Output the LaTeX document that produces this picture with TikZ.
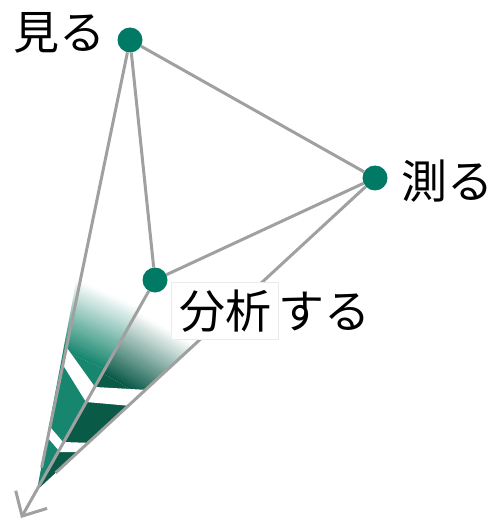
\documentclass[tikz,border=0pt]{standalone}
\usepackage{fontspec}
\newfontfamily\jpfont{Noto Sans CJK JP}
\usetikzlibrary{arrows.meta,calc,backgrounds}
\definecolor{dotteal}{RGB}{0,122,100}
\definecolor{faceleft}{RGB}{22,134,110}
\definecolor{faceright}{RGB}{10,90,72}
\definecolor{edgegray}{RGB}{160,160,160}
\tikzset{
  dot/.style={circle,fill=dotteal,minimum size=25pt,inner sep=0pt},
  edge/.style={draw=edgegray,line width=3pt},
  word/.style={font=\jpfont\fontsize{46}{50}\selectfont,inner sep=0pt},
}
\begin{document}
\begin{tikzpicture}[x=1pt,y=-1pt,>=stealth]
\useasboundingbox (0,0) rectangle (495,521);
% the three points
\node[dot] (miru) at (130,40) {};
\node[dot] (hakaru) at (375,178) {};
\node[dot] (bunseki) at (155,280) {};
\node[word] (miruText) at (59,33) {見る};
\node[word] (hakaruText) at (447,181) {測る};
\node[word] (bunsekiText) at (271,311) {\fboxsep=7pt\fboxrule=0.6pt\fcolorbox{black!8}{white}{分析}する};
% where the edges meet
\coordinate (apex) at (37,490);
\coordinate (tip) at (21,518);
\coordinate (miruEnd) at ($(miru)!0.95!(apex)$);
\coordinate (hakaruEnd) at ($(hakaru)!0.945!(apex)$);
\coordinate (miruTop) at ($(miru)!0.53!(apex)+(-4,0)$);
\coordinate (hakaruTop) at ($(hakaru)!0.34!(apex)$);
\begin{scope}[on background layer]
  % left face
  \begin{scope}
    \clip (apex) -- (miruTop) -- (bunseki.center) -- cycle;
    \begin{scope}[shift={(apex)},rotate=-24]
      \fill[faceleft] (-300,60) rectangle (300,-138);
      \foreach \k [evaluate=\k as \pct using int(100-\k*100/35)] in {0,...,34}
        \fill[faceleft!\pct!white] (-300,{-138-2*\k}) rectangle (300,{-140.5-2*\k});
    \end{scope}
  \end{scope}
  % right face
  \begin{scope}
    \clip (apex) -- (bunseki.center) -- (hakaruTop) -- cycle;
    \begin{scope}[shift={(apex)},rotate=-30]
      \fill[faceright] (-300,60) rectangle (300,-134);
      \foreach \k [evaluate=\k as \pct using int(100-\k*100/35)] in {0,...,34}
        \fill[faceright!\pct!white] (-300,{-134-2*\k}) rectangle (300,{-136.5-2*\k});
    \end{scope}
  \end{scope}
  % white bands
  \fill[white] (67,348) -- (95,387) -- (148,390) -- (131,406) -- (86,402) -- (63,365) -- cycle;
  \fill[white] (51,428) -- (63,442) -- (93,443) -- (86,452) -- (60,452) -- (48,438) -- cycle;
  % edges
  \draw[edge] (miru) -- (hakaru);
  \draw[edge] (miru) -- (bunseki);
  \draw[edge] (bunseki) -- (hakaru);
  \draw[edge] (miru) -- (miruEnd);
  \draw[edge] (hakaru) -- (hakaruEnd);
  \draw[edge,-{Straight Barb[length=19pt,width=36pt]}] (bunseki) -- (tip);
\end{scope}
\end{tikzpicture}
\end{document}
